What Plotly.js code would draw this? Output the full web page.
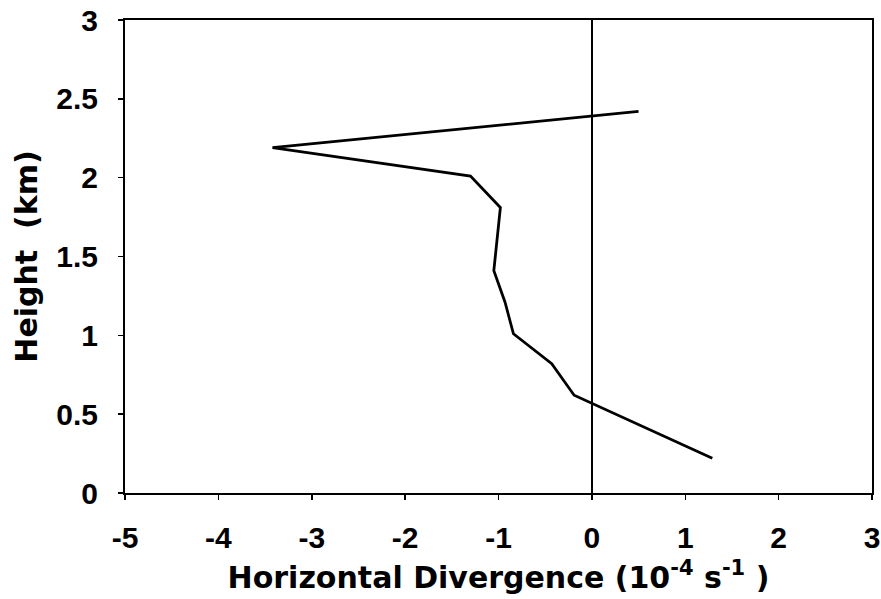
<!DOCTYPE html>
<html>
<head>
<meta charset="utf-8">
<script src="https://cdn.plot.ly/plotly-3.0.1.min.js"></script>
<style>html,body{margin:0;padding:0;background:#fff;}#chart{width:881px;height:599px;}</style>
</head>
<body>
<div id="chart"></div>
<script>
// Horizontal divergence (10^-4 s^-1) vs height (km)
const divergence = [1.29, -0.19, -0.43, -0.84, -0.93, -1.05, -0.98, -1.30, -3.42, 0.50];
const height     = [0.22,  0.62,  0.82,  1.01,  1.21,  1.41,  1.81,  2.01,  2.19, 2.42];

const xTickVals = [-5, -4, -3, -2, -1, 0, 1, 2, 3];
const xTickText = ['-5', '-4', '-3', '-2', '-1', '0', '1', '2', '3'];
const yTickVals = [0, 0.5, 1, 1.5, 2, 2.5, 3];
const yTickText = ['0', '0.5', '1', '1.5', '2', '2.5', '3'];

const tickFont = {family: 'Liberation Sans, Arial, sans-serif', size: 30, color: '#000', weight: 'bold'};
const titleFont = {family: 'DejaVu Sans, sans-serif', size: 30, color: '#000', weight: 'bold'};

const trace = {
  x: divergence,
  y: height,
  type: 'scatter',
  mode: 'lines',
  line: {color: '#000', width: 2.8},
  hoverinfo: 'skip'
};

const layout = {
  width: 881,
  height: 599,
  margin: {l: 125, r: 9, t: 20, b: 106},
  paper_bgcolor: '#fff',
  plot_bgcolor: '#fff',
  showlegend: false,
  xaxis: {
    range: [-5, 3],
    tickmode: 'array',
    tickvals: xTickVals,
    ticktext: xTickText,
    ticks: 'outside',
    ticklen: 5,
    tickwidth: 1.5,
    tickcolor: '#000',
    ticklabelstandoff: 12,
    ticklabeloverflow: 'allow',
    tickfont: tickFont,
    showgrid: false,
    zeroline: true,
    zerolinecolor: '#000',
    zerolinewidth: 2,
    showline: true,
    linecolor: '#000',
    linewidth: 2,
    mirror: true,
    title: {text: 'Horizontal Divergence (10<sup>-4</sup> s<sup>-1</sup> )', font: titleFont, standoff: 14}
  },
  yaxis: {
    range: [0, 3],
    tickmode: 'array',
    tickvals: yTickVals,
    ticktext: yTickText,
    ticks: 'outside',
    ticklen: 5,
    tickwidth: 1.5,
    tickcolor: '#000',
    ticklabelstandoff: 14,
    ticklabeloverflow: 'allow',
    tickfont: tickFont,
    showgrid: false,
    zeroline: false,
    showline: true,
    linecolor: '#000',
    linewidth: 2,
    mirror: true,
    title: {text: 'Height  (km)', font: titleFont, standoff: 10}
  }
};

Plotly.newPlot('chart', [trace], layout, {displayModeBar: false, staticPlot: true});
</script>
</body>
</html>
